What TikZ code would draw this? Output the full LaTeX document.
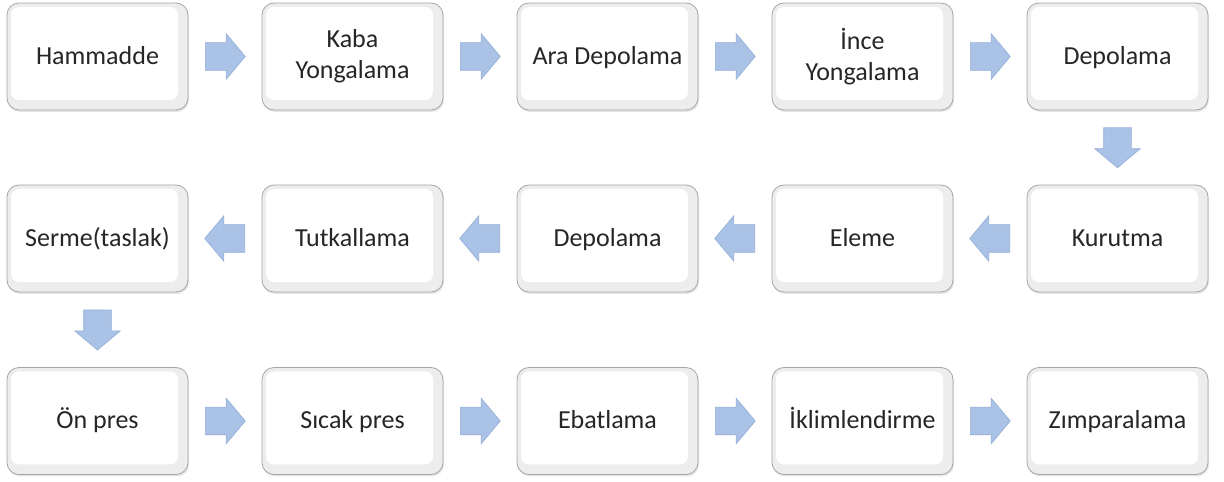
\documentclass[tikz,border=0pt]{standalone}
\usepackage{fontspec}
\setmainfont{Carlito}
\usetikzlibrary{calc,shapes.arrows,shadows}

\definecolor{arrowblue}{HTML}{A9C2E6}
\definecolor{arrowedge}{HTML}{93AED6}
\definecolor{boxedge}{HTML}{A6A6A6}
\definecolor{boxbevel}{HTML}{EDEDED}

\tikzset{
  procbox/.style={draw=boxedge, line width=0.8pt, fill=boxbevel, rounded corners=12pt,
    minimum width=181pt, minimum height=107pt, align=center,
    font=\fontsize{26}{31}\selectfont, text=black!85,
    drop shadow={shadow xshift=1pt, shadow yshift=-2pt, opacity=0.25, fill=black!40},
    path picture={
      \fill[white, rounded corners=8pt]
        ([shift={(4pt,-4pt)}]path picture bounding box.north west) rectangle
        ([shift={(-10pt,10pt)}]path picture bounding box.south east);
    }},
  procline/.style={procbox, text height=20pt, text depth=4pt},
  flowarrow/.style={single arrow, draw=arrowedge, fill=arrowblue, line width=0.6pt,
    minimum height=40pt, inner xsep=0pt, inner ysep=13.5pt, single arrow head extend=9pt,
    single arrow tip angle=100, anchor=tail}
}
% block arrow centred between two boxes
\def\flowarrow(#1)(#2)[#3]{\node[flowarrow, rotate=#3] at ($(#1)!0.5!(#2)!20pt!(#1)$) {};}

\begin{document}
\begin{tikzpicture}[x=1pt,y=1pt]
			\useasboundingbox (0,0) rectangle (1224,482);
			
			%% first row
			\node[procline] (r1a) at (97.5, 425.5) {Hammadde};
			\node[procbox] (r1b) at (352.5, 425.5) {Kaba\\Yongalama};
			\node[procline] (r1c) at (607.5, 425.5) {Ara Depolama};
			\node[procbox] (r1d) at (862.5, 425.5) {İnce\\Yongalama};
			\node[procline] (r1e) at (1117.5, 425.5) {Depolama};
			
			%% second row
			\node[procline] (r2e) at (1117.5, 243.5) {Kurutma};
			\node[procline] (r2d) at (862.5, 243.5) {Eleme};
			\node[procline] (r2c) at (607.5, 243.5) {Depolama};
			\node[procline] (r2b) at (352.5, 243.5) {Tutkallama};
			\node[procline] (r2a) at (97.5, 243.5) {Serme(taslak)};
			
			%% third row
			\node[procline] (r3a) at (97.5, 61) {Ön pres};
			\node[procline] (r3b) at (352.5, 61) {Sıcak pres};
			\node[procline] (r3c) at (607.5, 61) {Ebatlama};
			\node[procline] (r3d) at (862.5, 61) {İklimlendirme};
			\node[procline] (r3e) at (1117.5, 61) {Zımparalama};
			
			%% arrows
			\flowarrow(r1a.east)(r1b.west)[0]
			\flowarrow(r1b.east)(r1c.west)[0]
			\flowarrow(r1c.east)(r1d.west)[0]
			\flowarrow(r1d.east)(r1e.west)[0]
			\flowarrow(r1e.south)(r2e.north)[-90]
			\flowarrow(r2e.west)(r2d.east)[180]
			\flowarrow(r2d.west)(r2c.east)[180]
			\flowarrow(r2c.west)(r2b.east)[180]
			\flowarrow(r2b.west)(r2a.east)[180]
			\flowarrow(r2a.south)(r3a.north)[-90]
			\flowarrow(r3a.east)(r3b.west)[0]
			\flowarrow(r3b.east)(r3c.west)[0]
			\flowarrow(r3c.east)(r3d.west)[0]
			\flowarrow(r3d.east)(r3e.west)[0]
		\end{tikzpicture}
\end{document}
